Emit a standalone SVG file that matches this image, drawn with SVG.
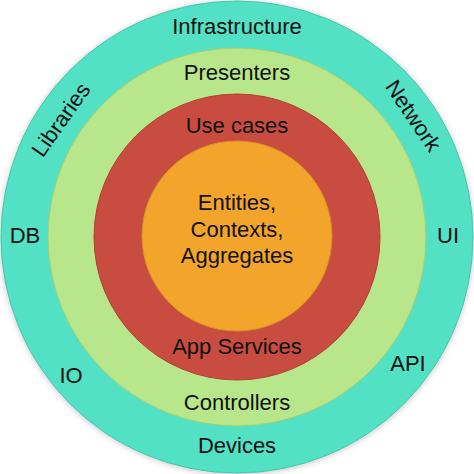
<svg xmlns="http://www.w3.org/2000/svg" width="474" height="474" viewBox="0 0 474 474">
<defs>
<filter id="sh" x="-10%" y="-10%" width="120%" height="120%"><feGaussianBlur stdDeviation="3"/></filter>
<style>
text{font-family:"Liberation Sans",Arial,sans-serif;font-size:22px;fill:#111;text-anchor:middle}
.ring{stroke-width:1}
</style>
</defs>
<rect width="474" height="474" fill="#fff"/>
<circle cx="237" cy="238" r="236" fill="#999" filter="url(#sh)" opacity="0.6"/>
<g id="infrastructure">
<circle class="ring" cx="237" cy="237" r="236" fill="#52E1C5" stroke="#45c8ad"/>
<text x="237" y="34">Infrastructure</text>
<text x="25" y="243">DB</text>
<text x="448" y="243">UI</text>
<text x="71" y="383">IO</text>
<text x="408" y="371">API</text>
<text x="237" y="453">Devices</text>
<text transform="translate(67,124) rotate(-55)">Libraries</text>
<text transform="translate(407,120) rotate(56)">Network</text>
</g>
<g id="adapters">
<circle class="ring" cx="237" cy="237" r="189" fill="#B8E68A" stroke="#9fcf78"/>
<text x="237" y="80">Presenters</text>
<text x="237" y="410">Controllers</text>
</g>
<g id="application">
<circle class="ring" cx="237" cy="237" r="143" fill="#C84C3F" stroke="#b04035"/>
<text x="237" y="133">Use cases</text>
<text x="237" y="354">App Services</text>
</g>
<g id="domain">
<circle class="ring" cx="237" cy="236" r="95" fill="#F2A52A" stroke="#d99223"/>
<text x="237" y="210">Entities,</text>
<text x="237" y="237">Contexts,</text>
<text x="237" y="263">Aggregates</text>
</g>
<g id="connectors"/>
</svg>
